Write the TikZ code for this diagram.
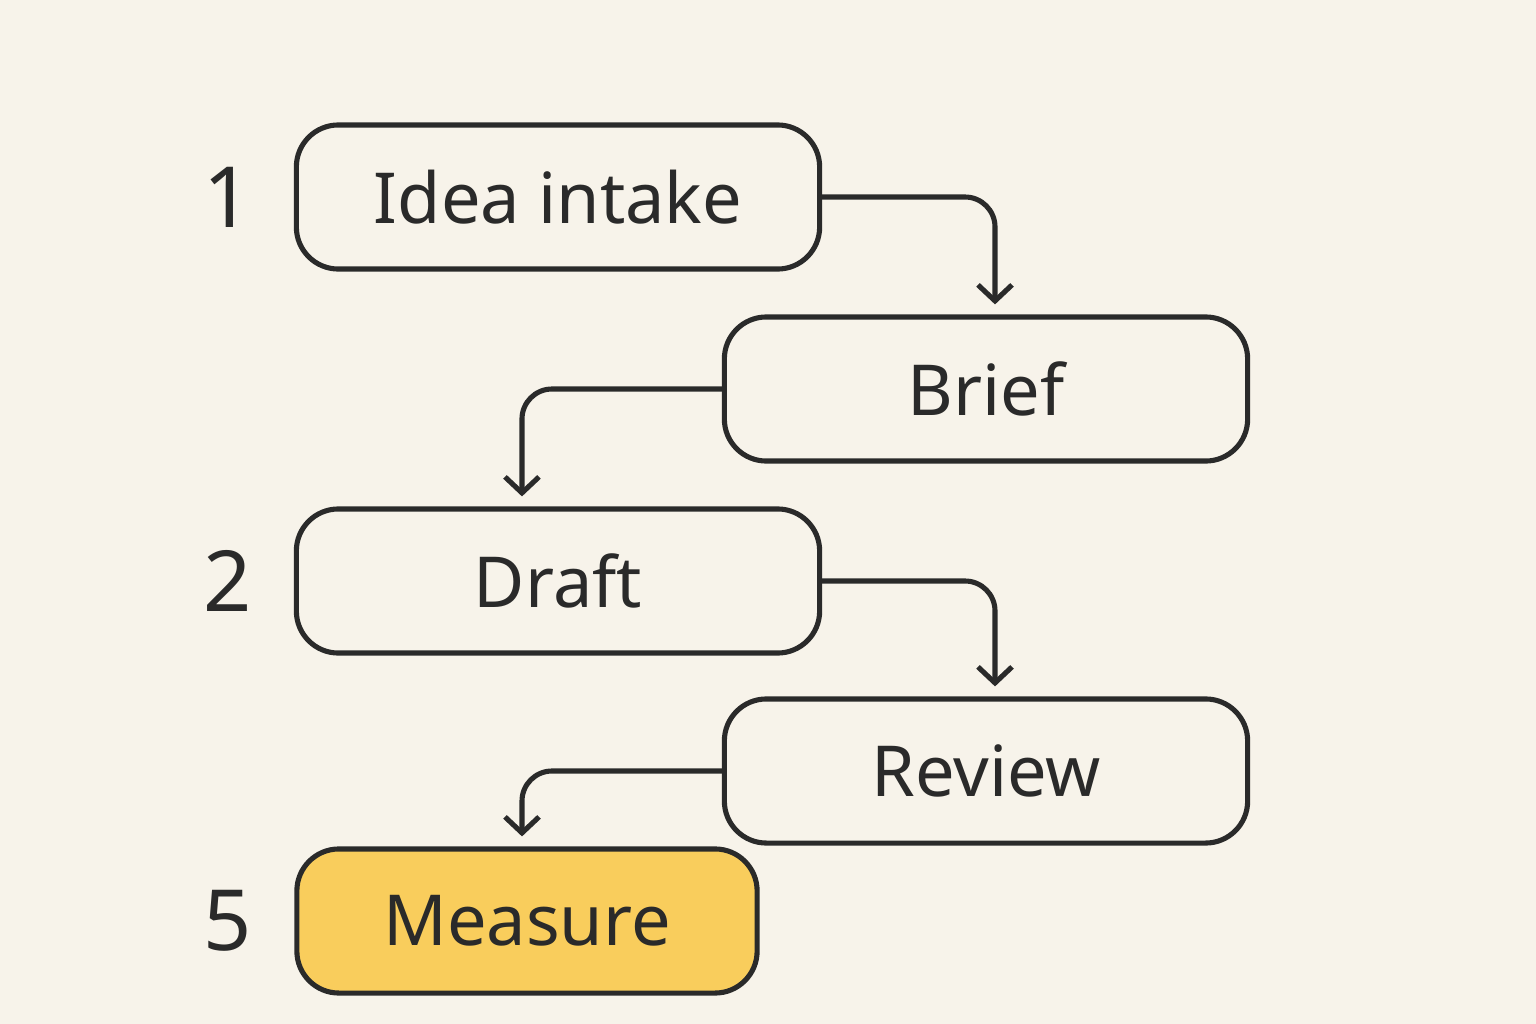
\documentclass[tikz,border=0pt]{standalone}
\usepackage{fontspec}
\setmainfont{Noto Sans}
\usetikzlibrary{arrows.meta}
\definecolor{paper}{HTML}{F7F3EA}
\definecolor{ink}{HTML}{2A2A2A}
\definecolor{gold}{HTML}{F9CD5C}
\tikzset{
  stage/.style={draw=ink,line width=1.45pt,rounded corners=0.42cm,
    minimum width=5.23cm,minimum height=1.44cm,font=\fontsize{20}{24}\selectfont\bfseries,text=ink},
  num/.style={font=\fontsize{24}{28}\selectfont\bfseries,text=ink},
  flow/.style={draw=ink,line width=1.45pt,rounded corners=0.3cm,
    -{Straight Barb[length=0.16cm,width=0.34cm,line width=1.45pt]},shorten >=0.1cm}
}
\begin{document}
\begin{tikzpicture}[x=0.01cm,y=-0.01cm]
\fill[paper] (0,0) rectangle (1536,1024);
\useasboundingbox (0,0) rectangle (1536,1024);
% stages
\node[stage] (idea) at (558,197) {Idea intake};
\node[stage] (brief) at (986,389) {Brief};
\node[stage] (draft) at (558,581) {Draft};
\node[stage] (review) at (986,771) {Review};
\node[stage,fill=gold,minimum width=4.6cm] (measure) at (527,921) {Measure};
% numbers
\node[num] (n1) at (228,197) {1};
\node[num] (n2) at (228,581) {2};
\node[num] (n5) at (228,921) {5};
% connectors
\draw[flow] (idea.east) -| ([xshift=0.09cm]brief.north);
\draw[flow] (brief.west) -| ([xshift=-0.36cm]draft.north);
\draw[flow] (draft.east) -| ([xshift=0.09cm]review.north);
\draw[flow] (review.west) -| ([xshift=-0.05cm]measure.north);
\end{tikzpicture}
\end{document}
